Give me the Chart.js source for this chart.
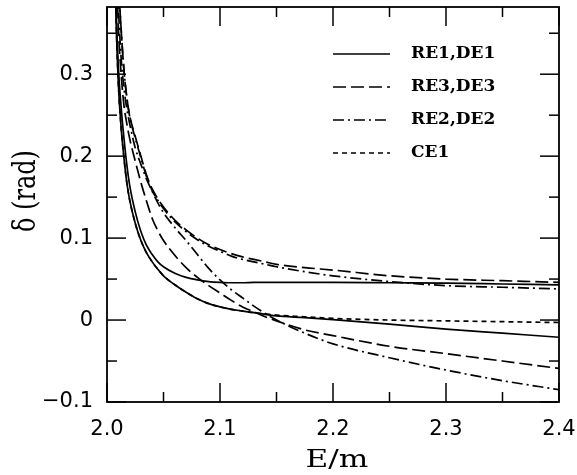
<!DOCTYPE html>
<html>
<head>
<meta charset="utf-8">
<title>Phase shift vs E/m</title>
<script src="https://cdn.jsdelivr.net/npm/chart.js@4.4.0/dist/chart.umd.min.js"></script>
<style>
  html, body { margin: 0; padding: 0; background: #fff; }
  #wrap { width: 577px; height: 475px; }
</style>
</head>
<body>
<div id="wrap"><canvas id="chart" width="577" height="475"></canvas></div>
<script>
// energy grid shared by every curve
const energies = [2.006, 2.008, 2.01, 2.0125, 2.015, 2.0175, 2.02, 2.025, 2.03, 2.035,
  2.04, 2.045, 2.05, 2.06, 2.07, 2.08, 2.09, 2.1, 2.11, 2.12,
  2.13, 2.14, 2.15, 2.175, 2.2, 2.25, 2.3, 2.35, 2.4];

// phase shifts (rad)
const re1Upper = [0.52, 0.385, 0.31, 0.26, 0.222, 0.19, 0.165, 0.132, 0.108, 0.091,
  0.080, 0.071, 0.065, 0.057, 0.052, 0.049, 0.047, 0.046, 0.0455, 0.0455,
  0.046, 0.046, 0.046, 0.046, 0.046, 0.0455, 0.045, 0.044, 0.043];
const re1Lower = [0.50, 0.37, 0.29, 0.235, 0.198, 0.168, 0.147, 0.118, 0.097, 0.082,
  0.071, 0.062, 0.054, 0.043, 0.034, 0.026, 0.020, 0.016, 0.013, 0.011,
  0.009, 0.007, 0.005, 0.003, 0.0005, -0.005, -0.011, -0.016, -0.021];
const re3Upper = [0.62, 0.50, 0.42, 0.355, 0.305, 0.272, 0.25, 0.224, 0.200, 0.177,
  0.160, 0.148, 0.138, 0.122, 0.110, 0.100, 0.092, 0.086, 0.081, 0.077,
  0.074, 0.071, 0.068, 0.064, 0.061, 0.054, 0.050, 0.048, 0.046];
const re3Lower = [0.56, 0.45, 0.36, 0.30, 0.262, 0.240, 0.222, 0.194, 0.168, 0.145,
  0.124, 0.109, 0.097, 0.079, 0.064, 0.052, 0.042, 0.033, 0.024, 0.016,
  0.010, 0.004, -0.001, -0.012, -0.019, -0.032, -0.041, -0.050, -0.059];
const re2Upper = [0.62, 0.50, 0.42, 0.355, 0.305, 0.272, 0.249, 0.222, 0.198, 0.175,
  0.158, 0.146, 0.136, 0.120, 0.108, 0.098, 0.090, 0.084, 0.078, 0.074,
  0.071, 0.068, 0.065, 0.059, 0.054, 0.047, 0.042, 0.040, 0.038];
const re2Lower = [0.58, 0.47, 0.385, 0.32, 0.283, 0.258, 0.24, 0.21, 0.19, 0.172,
  0.157, 0.143, 0.131, 0.113, 0.097, 0.080, 0.063, 0.049, 0.037, 0.027,
  0.017, 0.008, 0.0, -0.016, -0.029, -0.046, -0.061, -0.074, -0.085];
const ce1 = [0.50, 0.37, 0.29, 0.235, 0.198, 0.168, 0.147, 0.118, 0.097, 0.082,
  0.071, 0.062, 0.054, 0.043, 0.034, 0.026, 0.020, 0.016, 0.013, 0.011,
  0.009, 0.0075, 0.006, 0.004, 0.002, 0.0, -0.001, -0.002, -0.003];

// axis ticks and their labels
const xMajorTicks = [2.0, 2.1, 2.2, 2.3, 2.4];
const xMinorTicks = [2.05, 2.15, 2.25, 2.35];
const xTickLabels = ["2.0", "2.1", "2.2", "2.3", "2.4"];
const yMajorTicks = [-0.1, 0, 0.1, 0.2, 0.3];
const yMinorTicks = [-0.05, 0.05, 0.15, 0.25, 0.35];
const yTickLabels = ["\u22120.1", "0", "0.1", "0.2", "0.3"];

const SOLID = [];
const LONG_DASH = [13, 5];
const DASH_DOT = [11, 4, 2, 4];
const SHORT_DASH = [5, 4];

function curve(label, values, dash) {
  return {
    label: label,
    data: energies.map((e, i) => ({ x: e, y: values[i] })),
    borderColor: "#000",
    borderWidth: 1.7,
    borderDash: dash,
    pointRadius: 0,
    fill: false,
    cubicInterpolationMode: "monotone",
    clip: 0,
  };
}

const datasets = [
  curve("RE1,DE1", re1Upper, SOLID),
  curve("RE1,DE1", re1Lower, SOLID),
  curve("RE3,DE3", re3Upper, LONG_DASH),
  curve("RE3,DE3", re3Lower, LONG_DASH),
  curve("RE2,DE2", re2Upper, DASH_DOT),
  curve("RE2,DE2", re2Lower, DASH_DOT),
  curve("CE1", ce1, SHORT_DASH),
];

// box around the plot with inward ticks on all four sides
const frameTicks = {
  id: "frameTicks",
  afterDatasetsDraw(chart) {
    const { ctx, chartArea: a, scales } = chart;
    const line = (x1, y1, x2, y2) => {
      ctx.beginPath();
      ctx.moveTo(x1, y1);
      ctx.lineTo(x2, y2);
      ctx.stroke();
    };
    ctx.save();
    ctx.strokeStyle = "#000";
    ctx.lineWidth = 1.8;
    ctx.setLineDash([]);
    ctx.strokeRect(a.left, a.top, a.right - a.left, a.bottom - a.top);
    ctx.lineWidth = 1.5;
    const xTick = (v, len) => {
      const px = scales.x.getPixelForValue(v);
      line(px, a.bottom, px, a.bottom - len);
      line(px, a.top, px, a.top + len);
    };
    const yTick = (v, len) => {
      const py = scales.y.getPixelForValue(v);
      line(a.left, py, a.left + len, py);
      line(a.right, py, a.right - len, py);
    };
    xMajorTicks.forEach((v) => xTick(v, 19));
    xMinorTicks.forEach((v) => xTick(v, 10));
    yMajorTicks.forEach((v) => yTick(v, 19));
    yMinorTicks.forEach((v) => yTick(v, 10));
    ctx.restore();
  },
};

// key in the upper right, one row per label
const curveKey = {
  id: "curveKey",
  afterDatasetsDraw(chart) {
    const ctx = chart.ctx;
    const rows = [];
    chart.data.datasets.forEach((ds) => {
      if (!rows.find((r) => r.label === ds.label)) rows.push(ds);
    });
    ctx.save();
    ctx.font = 'bold 17px "DejaVu Serif"';
    ctx.textBaseline = "middle";
    ctx.fillStyle = "#000";
    ctx.strokeStyle = "#000";
    rows.forEach((ds, i) => {
      const y = 54 + i * 33;
      ctx.beginPath();
      ctx.setLineDash(ds.borderDash);
      ctx.lineWidth = ds.borderWidth;
      ctx.moveTo(333, y);
      ctx.lineTo(390, y);
      ctx.stroke();
      ctx.fillText(ds.label, 411, y);
    });
    ctx.restore();
  },
};

// axis titles, set in a wide serif
const axisTitles = {
  id: "axisTitles",
  afterDraw(chart) {
    const ctx = chart.ctx;
    ctx.save();
    ctx.fillStyle = "#000";
    ctx.font = '24px "DejaVu Serif"';
    ctx.textAlign = "center";
    ctx.textBaseline = "alphabetic";
    ctx.save();
    ctx.translate(337, 467);
    ctx.scale(1.3, 1);
    ctx.fillText("E/m", 0, 0);
    ctx.restore();
    ctx.translate(35, 191);
    ctx.rotate(-Math.PI / 2);
    ctx.scale(1, 1.3);
    ctx.fillText("\u03b4 (rad)", 0, 0);
    ctx.restore();
  },
};

new Chart(document.getElementById("chart"), {
  type: "line",
  data: { datasets: datasets },
  options: {
    responsive: false,
    devicePixelRatio: 1,
    animation: false,
    events: [],
    layout: { padding: { top: 7, right: 18, bottom: 0, left: 0 } },
    plugins: { legend: { display: false }, tooltip: { enabled: false } },
    scales: {
      x: {
        type: "linear",
        min: 2.0,
        max: 2.4,
        grid: { display: false, drawTicks: false },
        border: { display: false },
        afterBuildTicks: (s) => { s.ticks = xMajorTicks.map((v) => ({ value: v })); },
        afterFit: (s) => {
          s.height = 73;
          s.paddingLeft = 0;
          s.paddingRight = 0;
        },
        ticks: {
          padding: 15,
          maxRotation: 0,
          color: "#000",
          font: { family: "DejaVu Sans", size: 21 },
          callback: (v, i) => xTickLabels[i],
        },
      },
      y: {
        min: -0.1,
        max: 0.382,
        grid: { display: false, drawTicks: false },
        border: { display: false },
        afterBuildTicks: (s) => { s.ticks = yMajorTicks.map((v) => ({ value: v })); },
        afterFit: (s) => {
          s.width = 107;
          s.paddingTop = 0;
          s.paddingBottom = 0;
        },
        ticks: {
          padding: 14,
          color: "#000",
          font: { family: "DejaVu Sans", size: 21 },
          callback: (v, i) => yTickLabels[i],
        },
      },
    },
  },
  plugins: [frameTicks, curveKey, axisTitles],
});
</script>
</body>
</html>
